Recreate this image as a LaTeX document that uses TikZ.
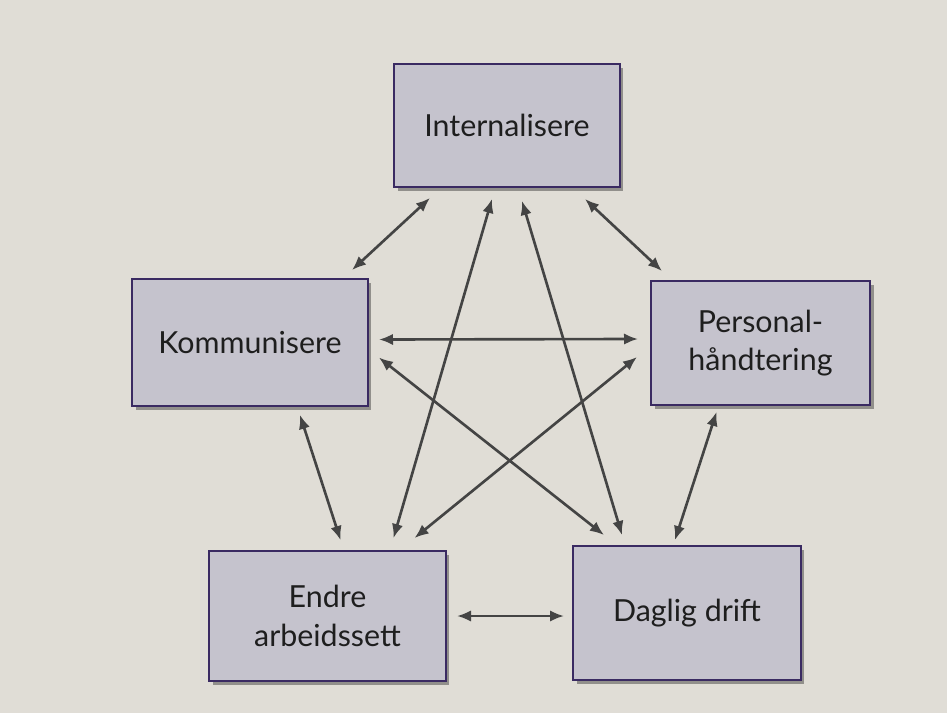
\documentclass[tikz,border=0pt]{standalone}
\usepackage{fontspec}
\setmainfont{Lato}
\usepackage{xcolor}
\usepackage{tikz}
\usetikzlibrary{arrows.meta,calc,shadows}

\definecolor{pagegray}{RGB}{224,221,214}
\definecolor{boxfill}{RGB}{197,195,205}
\definecolor{boxline}{RGB}{58,42,98}
\definecolor{arrowgray}{RGB}{68,68,68}
\definecolor{textdark}{RGB}{30,30,30}

\tikzset{
    area/.style={
        draw=boxline,
        line width=1.1pt,
        fill=boxfill,
        align=center,
        text=textdark,
        font=\fontsize{17.3}{22}\selectfont,
        drop shadow={shadow xshift=2pt,shadow yshift=-2.5pt,opacity=.35,fill=black}
    },
    link/.style={
        {Latex[length=8pt,width=6.5pt]}-{Latex[length=8pt,width=6.5pt]},
        line width=1.5pt,
        draw=arrowgray
    }
}

\begin{document}
\begin{tikzpicture}[x=0.02cm,y=-0.02cm]
                \fill[pagegray] (0,0) rectangle (947,713);
                \useasboundingbox (0,0) rectangle (947,713);

                % the five areas
                \node[area, minimum width=4.52cm, minimum height=2.46cm] (int) at (507,125.5) {Internalisere};
                \node[area, minimum width=4.72cm, minimum height=2.54cm] (kom) at (250,342.5) {Kommunisere};
                \node[area, minimum width=4.38cm, minimum height=2.48cm] (pers) at (760.5,343) {Personal-\\håndtering};
                \node[area, minimum width=4.74cm, minimum height=2.60cm] (endre) at (327.5,616) {Endre\\arbeidssett};
                \node[area, minimum width=4.56cm, minimum height=2.68cm] (drift) at (687,613) {Daglig drift};

                % outer ring
                \draw[link] ($(int.south)+(-77,10)$) -- ($(kom.north)+(102,-8)$);
                \draw[link] ($(int.south)+(78,11)$) -- ($(pers.north)+(-98.5,-9)$);
                \draw[link] ($(kom.south)+(50,8)$) -- ($(endre.north)+(13,-10)$);
                \draw[link] ($(pers.south)+(-44,6)$) -- ($(drift.north)+(-12,-5)$);
                \draw[link] ($(endre.east)+(10,0)$) -- ($(drift.west)+(-8,3)$);

                % inner star
                \draw[link] ($(kom.east)+(10,-3)$) -- ($(pers.west)+(-12,-4)$);
                \draw[link] ($(kom.east)+(10,15)$) -- ($(drift.north)+(-83,-10)$);
                \draw[link] ($(pers.west)+(-13,14)$) -- ($(endre.north)+(87,-12)$);
                \draw[link] ($(int.south)+(-15,11)$) -- ($(endre.north)+(66,-12)$);
                \draw[link] ($(int.south)+(15,13)$) -- ($(drift.north)+(-65,-10)$);

            \end{tikzpicture}
\end{document}
